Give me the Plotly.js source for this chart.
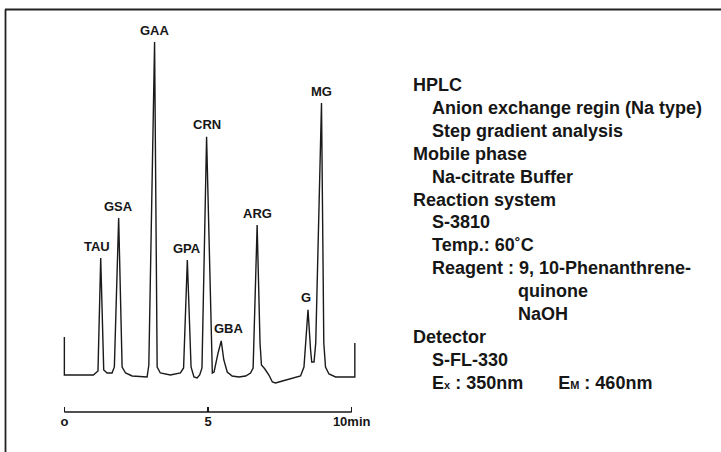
<!DOCTYPE html>
<html>
<head>
<meta charset="utf-8">
<script src="https://cdn.plot.ly/plotly-3.0.1.min.js"></script>
<style>html,body{margin:0;padding:0;background:#fff;}#chart{width:721px;height:452px;}</style>
</head>
<body>
<div id="chart"></div>
<script>
// Chromatogram trace (time in min, relative signal; GAA peak = 100)
const timeMin = [0.00,0.00,1.01,1.11,1.17,1.265,1.37,1.49,1.66,1.74,1.89,2.01,2.13,2.36,2.88,2.94,3.14,3.23,3.34,3.69,4.04,4.15,4.28,4.41,4.51,4.62,4.71,4.79,4.95,5.15,5.21,5.35,5.46,5.55,5.67,5.84,6.07,6.31,6.48,6.57,6.71,6.81,6.86,6.98,7.12,7.24,7.35,7.59,7.93,8.22,8.34,8.40,8.48,8.57,8.61,8.69,8.75,8.95,9.03,9.09,9.21,9.44,10.08,10.11,10.11];
const signal  = [11.7,0.3,0.3,1.2,1.5,35.3,1.8,0.9,0.9,2.7,47.3,2.7,0.9,0.0,-0.3,3.3,100,2.7,0.9,0.3,0.9,2.4,34.7,2.7,-0.3,-0.6,0.3,2.4,71.6,0.9,1.2,6.9,10.5,4.8,1.2,0.0,-0.3,0.0,0.9,2.4,45.2,9.9,3.3,2.1,0.3,-1.8,-2.1,-1.5,-0.6,0.0,2.7,9.3,19.8,7.8,4.2,4.2,9.9,81.7,9.9,2.7,0.6,-0.3,-0.3,-0.3,9.9];

// Peak labels
const peakNames   = ['TAU','GSA','GAA','GPA','CRN','GBA','ARG','G','MG'];
const peakTimes   = [1.265,1.89,3.14,4.28,4.95,5.46,6.71,8.48,8.95];
const peakHeights = [35.3,47.3,100,34.7,71.6,10.5,45.2,19.8,81.7];

// Time scale bar
const tickVals = [0,5,10];
const tickText = ['o','5','10min'];

// Conditions text block: [text, indent level]
const infoLines = [
  ['HPLC',0],
  ['Anion exchange regin (Na type)',1],
  ['Step gradient analysis',1],
  ['Mobile phase',0],
  ['Na-citrate Buffer',1],
  ['Reaction system',0],
  ['S-3810',1],
  ['Temp.: 60˚C',1],
  ['Reagent : 9, 10-Phenanthrene-',1],
  ['quinone',2],
  ['NaOH',2],
  ['Detector',0],
  ['S-FL-330',1],
  ['E<span style="font-size:11px">x</span> : 350nm&nbsp;&nbsp;&nbsp;&nbsp;&nbsp;&nbsp;&nbsp;E<span style="font-size:11px">M</span> : 460nm',1]
];

// ---- layout geometry ----
const W = 721, H = 452;
const M = {l:50, r:355, t:20, b:40};
const pw = W - M.l - M.r, ph = H - M.t - M.b;
const px2x = px => (px - M.l) / pw;
const py2y = py => (H - M.b - py) / ph;
const FONT = '"Liberation Sans", Arial, Helvetica, sans-serif';
const INK = '#161616';

const labelXShift = {TAU:-4, GBA:8, G:-2};

const annotations = peakNames.map((n,i) => ({
  x: peakTimes[i], y: peakHeights[i], xref:'x', yref:'y',
  text: '<b>'+n+'</b>', showarrow:false,
  xanchor:'center', yanchor:'middle', yshift:12, xshift: labelXShift[n] || 0,
  font:{family:FONT, size:13, color:INK}
}));

const indentPx = [412, 431, 517];
infoLines.forEach((ln,i) => {
  annotations.push({
    x: px2x(indentPx[ln[1]] - 1), y: py2y(85 + i*22.9), xref:'paper', yref:'paper',
    text: '<b>'+ln[0]+'</b>', showarrow:false, xanchor:'left', yanchor:'middle',
    font:{family:FONT, size:18, color:INK}
  });
});

const shapes = [
  // scale bar line from first to last tick
  {type:'line', xref:'x', yref:'paper', x0:tickVals[0], x1:tickVals[tickVals.length-1], y0:0, y1:0,
   line:{color:INK, width:1.3}},
  // frame (top and left edges)
  {type:'line', xref:'paper', yref:'paper', x0:px2x(5), x1:px2x(722), y0:py2y(9.5), y1:py2y(9.5),
   line:{color:'#222', width:2}},
  {type:'line', xref:'paper', yref:'paper', x0:px2x(5.5), x1:px2x(5.5), y0:py2y(9.5), y1:py2y(453),
   line:{color:'#222', width:1.8}}
];

const trace = {
  x: timeMin, y: signal, type:'scatter', mode:'lines',
  line:{color:'#1a1a1a', width:1.4, shape:'linear'}, hoverinfo:'skip'
};

const xmin = -0.5, xmax = xmin + pw/28.73;
const ppu = 3.34;
const ymin = -(412-376)/ppu, ymax = (376-20)/ppu;

const layout = {
  width:W, height:H, margin:M, showlegend:false,
  paper_bgcolor:'#fff', plot_bgcolor:'rgba(0,0,0,0)',
  xaxis:{range:[xmin,xmax], showgrid:false, zeroline:false, showline:false,
    ticks:'inside', ticklen:5, tickwidth:1.3, tickcolor:INK,
    tickmode:'array', tickvals:tickVals, ticktext:tickText.map(t=>'<b>'+t+'</b>'),
    tickfont:{family:FONT, size:13, color:INK}, fixedrange:true},
  yaxis:{range:[ymin,ymax], visible:false, fixedrange:true},
  annotations, shapes
};

Plotly.newPlot('chart', [trace], layout, {staticPlot:true, displayModeBar:false});
</script>
</body>
</html>
